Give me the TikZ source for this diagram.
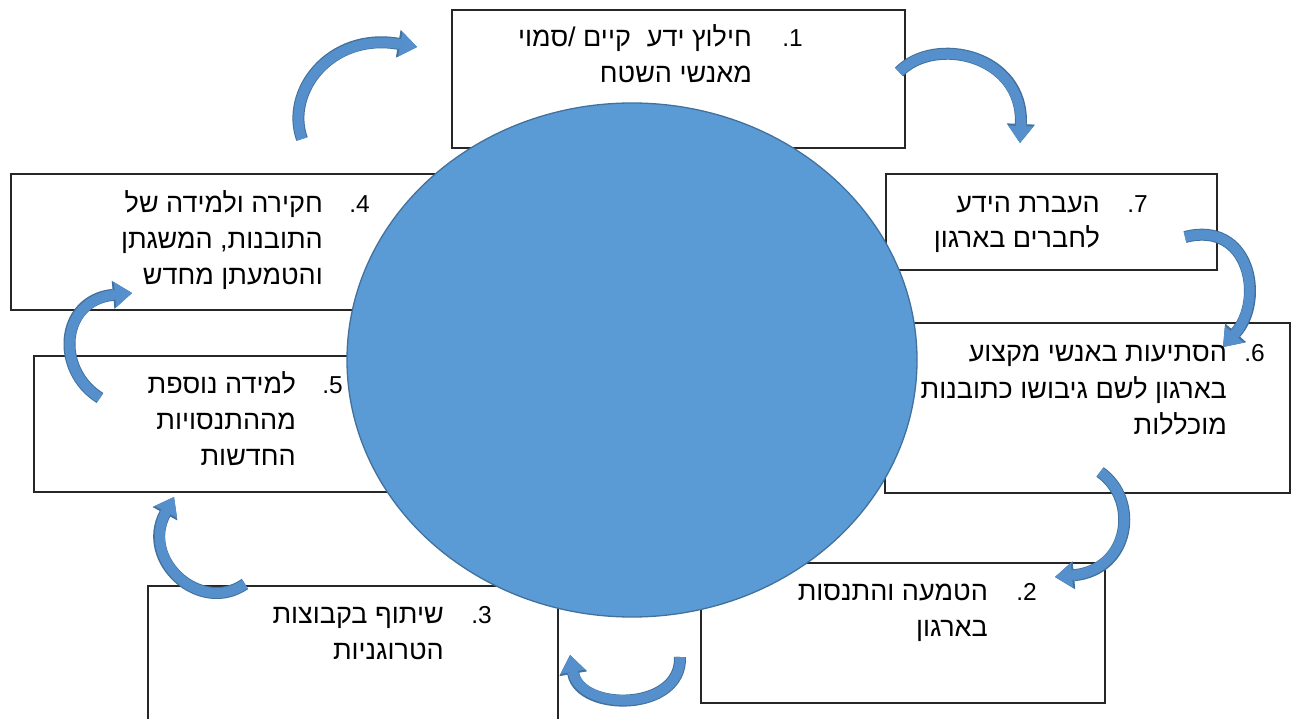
\documentclass[tikz,border=0pt]{standalone}
\usepackage{fontspec}
\setmainfont{Liberation Sans}
\newfontfamily\heb[Script=Hebrew]{Liberation Sans}
\TeXXeTstate=1
\usetikzlibrary{arrows.meta}
\definecolor{ellf}{HTML}{5B9BD5}
\definecolor{ellb}{HTML}{41719C}
\definecolor{arrf}{HTML}{5590CC}
\definecolor{arrb}{HTML}{41719C}
\begin{document}
\begin{tikzpicture}[x=1pt,y=-1pt,
  box/.style={draw=black!85, fill=white, line width=1.2pt},
  txt/.style={anchor=base east, inner sep=0pt, font=\heb\fontsize{27}{32}\selectfont},
  num/.style={anchor=base east, inner sep=0pt, font=\fontsize{24.5}{30}\selectfont},
  barrow/.style={line width=10pt, arrf, -{Triangle[width=25pt,length=17pt,line width=0.8pt]},
     preaction={draw=arrb, line width=12pt, -{Triangle[width=28pt,length=19pt,line width=0.8pt]}}}
]
\useasboundingbox (0,0) rectangle (1296,719);
\clip (0,0) rectangle (1296,719);
\fill[white] (0,0) rectangle (1296,719);

% boxes
\draw[box] (452,10) rectangle (905,148);
\draw[box] (886,174) rectangle (1217,270);
\draw[box] (885,323) rectangle (1290,493);
\draw[box] (701,563) rectangle (1105,703);
\draw[box] (148,586) rectangle (558,760);
\draw[box] (11,174) rectangle (460,310);
\draw[box] (34,356) rectangle (450,492);

% central ellipse
\filldraw[fill=ellf, draw=ellb, line width=1.3pt] (632,360) ellipse [x radius=285, y radius=257];

% curved arrows
\coordinate (aT) at (302,139); \coordinate (aH) at (417,47);
\draw[barrow] (aT) .. controls (285,92) and (330,32) .. (aH);
\coordinate (bT) at (899,72); \coordinate (bH) at (1020,143);
\draw[barrow] (bT) .. controls (935,35) and (1024,55) .. (bH);
\coordinate (cT) at (1185,237); \coordinate (cH) at (1223,347);
\draw[barrow] (cT) .. controls (1250,220) and (1265,300) .. (cH);
\coordinate (dT) at (1100,472); \coordinate (dH) at (1055,577);
\draw[barrow] (dT) .. controls (1140,500) and (1130,570) .. (dH);
\coordinate (eT) at (680,657); \coordinate (eH) at (570,655);
\draw[barrow] (eT) .. controls (682,712) and (580,712) .. (eH);
\coordinate (fT) at (245,584); \coordinate (fH) at (174,497);
\draw[barrow] (fT) .. controls (200,615) and (140,560) .. (fH);
\coordinate (gT) at (100,398); \coordinate (gH) at (132,293);
\draw[barrow] (gT) .. controls (55,370) and (60,300) .. (gH);

% texts
\node[num] (n1) at (803,47) {.1};
\node[txt] (t1a) at (752,47) {\beginR חילוץ ידע\hspace{16pt}קיים /סמוי\endR};
\node[txt] (t1b) at (752,83) {\beginR מאנשי השטח\endR};

\node[num] (n7) at (1148,213) {.7};
\node[txt] (t7a) at (1100,213) {\beginR העברת הידע\endR};
\node[txt] (t7b) at (1100,248) {\beginR לחברים בארגון\endR};

\node[num] (n6) at (1265,362) {.6};
\node[txt] (t6a) at (1227,362) {\beginR הסתיעות באנשי מקצוע\endR};
\node[txt] (t6b) at (1227,398) {\beginR בארגון לשם גיבושו כתובנות\endR};
\node[txt] (t6c) at (1227,434) {\beginR מוכללות\endR};

\node[num] (n2) at (1037,600) {.2};
\node[txt] (t2a) at (988,600) {\beginR הטמעה והתנסות\endR};
\node[txt] (t2b) at (988,636) {\beginR בארגון\endR};

\node[num] (n3) at (492,623) {.3};
\node[txt] (t3a) at (444,623) {\beginR שיתוף בקבוצות\endR};
\node[txt] (t3b) at (444,659) {\beginR הטרוגניות\endR};

\node[num] (n4) at (370,213) {.4};
\node[txt] (t4a) at (323,213) {\beginR חקירה ולמידה של\endR};
\node[txt] (t4b) at (323,249) {\beginR התובנות, המשגתן\endR};
\node[txt] (t4c) at (323,285) {\beginR והטמעתן מחדש\endR};

\node[num] (n5) at (343,393) {.5};
\node[txt] (t5a) at (296,393) {\beginR למידה נוספת\endR};
\node[txt] (t5b) at (296,429) {\beginR מההתנסויות\endR};
\node[txt] (t5c) at (296,465) {\beginR החדשות\endR};
\end{tikzpicture}
\end{document}
